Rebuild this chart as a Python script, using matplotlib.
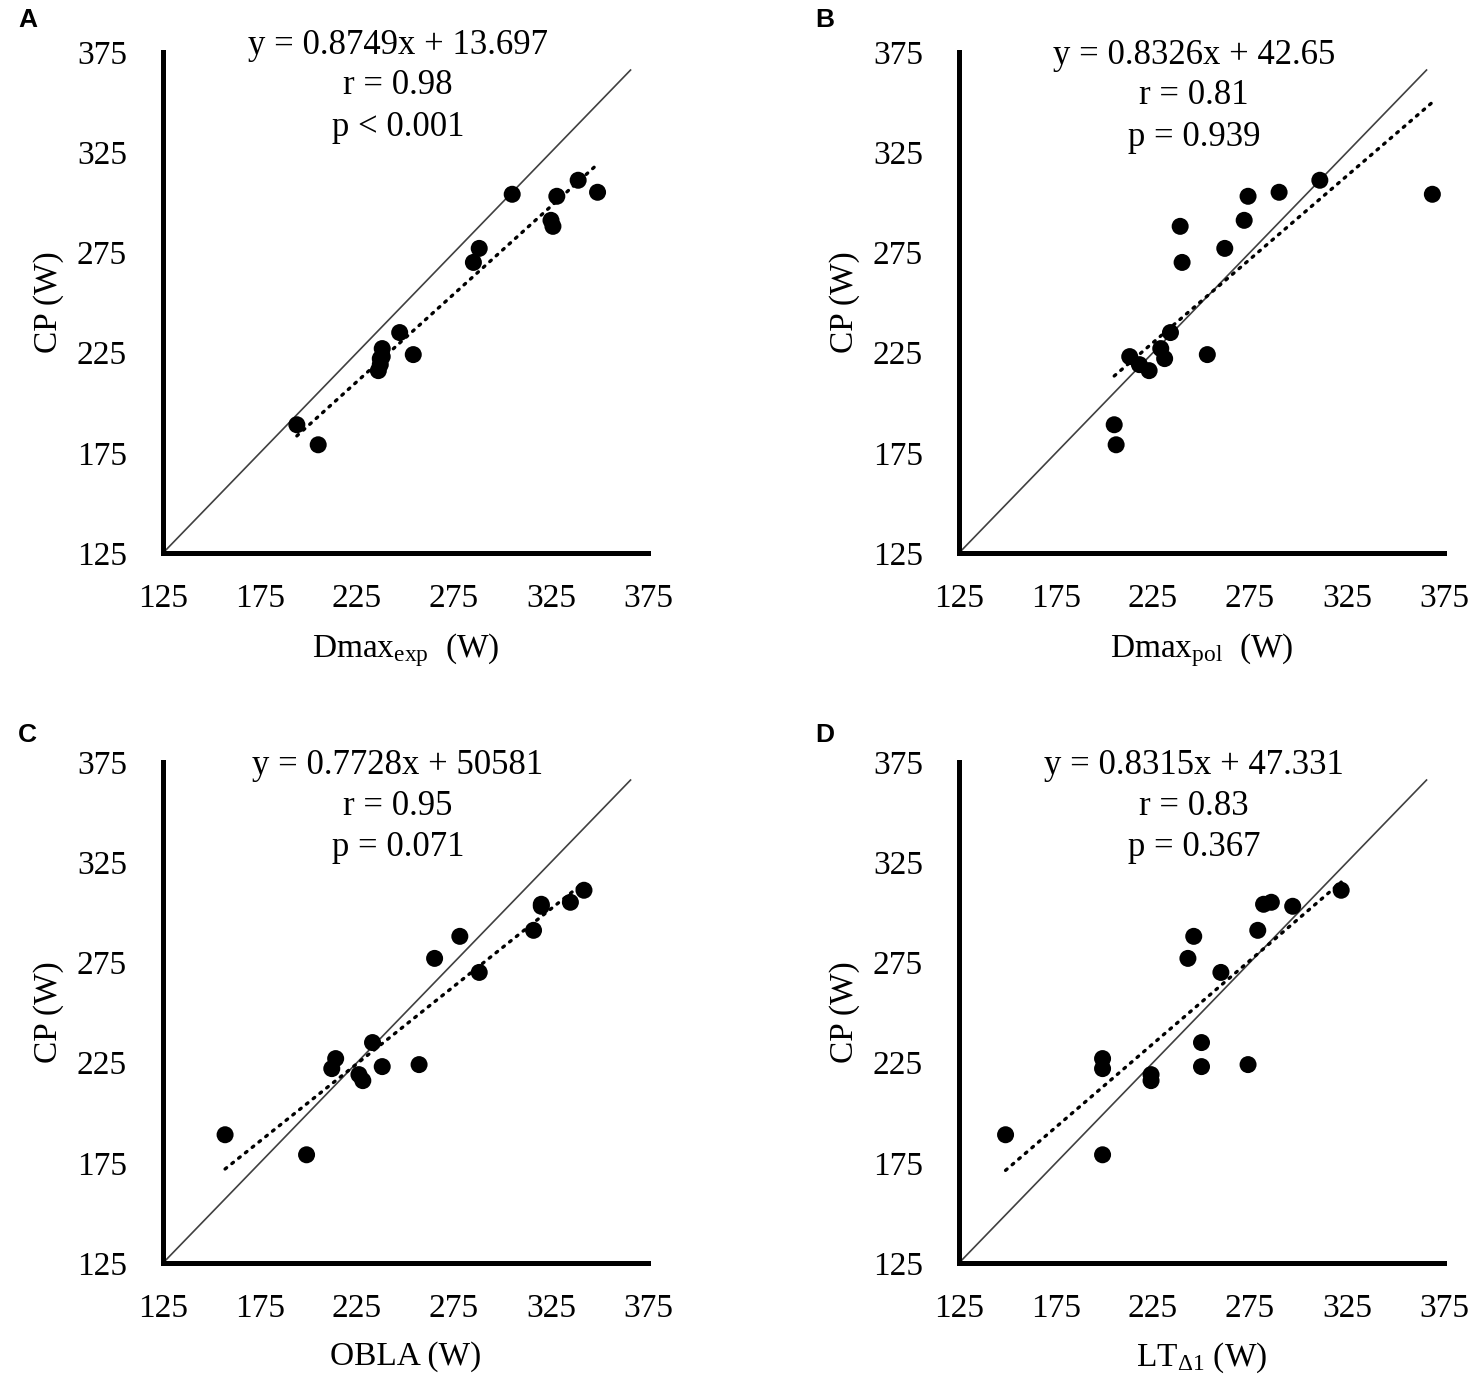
import numpy as np
import matplotlib
matplotlib.use("Agg")
import matplotlib.pyplot as plt

plt.rcParams['font.family'] = ['Liberation Serif', 'DejaVu Serif']
plt.rcParams['mathtext.fontset'] = 'custom'
plt.rcParams['mathtext.rm'] = 'Liberation Serif'
plt.rcParams['mathtext.it'] = 'Liberation Serif:italic'

# CP (W), shared y values of all four panels
cp = [311, 305, 304, 303, 291, 288, 277, 270, 235, 227, 224, 223, 222, 219, 216, 189, 179]

# threshold estimates (W), same subject order as cp
dmax_exp = [339, 349, 305, 328, 325, 326, 288, 285, 247, 238, 254, 238, 237, 237, 236, 194, 205]
dmax_pol = [311, 290, 369, 274, 272, 239, 262, 240, 234, 229, 253, 213, 231, 218, 223, 205, 206]
obla = [342, 335, 320, 320, 316, 278, 265, 288, 233, 214, 257, 238, 212, 226, 228, 157, 199]
lt_d1 = [322, 286, 282, 297, 279, 246, 243, 260, 250, 199, 274, 250, 199, 224, 224, 149, 199]

panel_letters = ['A', 'B', 'C', 'D']
x_labels = [r'Dmax$_{\mathrm{exp}}$  (W)', r'Dmax$_{\mathrm{pol}}$  (W)',
            'OBLA (W)', r'LT$_{\mathrm{\Delta 1}}$ (W)']
slopes = [0.8749, 0.8326, 0.7728, 0.8315]
intercepts = [13.697, 42.65, 50.581, 47.331]
eq_texts = ['y = 0.8749x + 13.697', 'y = 0.8326x + 42.65',
            'y = 0.7728x + 50581', 'y = 0.8315x + 47.331']
r_texts = ['r = 0.98', 'r = 0.81', 'r = 0.95', 'r = 0.83']
p_texts = ['p < 0.001', 'p = 0.939', 'p = 0.071', 'p = 0.367']

ticks = [125, 175, 225, 275, 325, 375]

W, H = 1479, 1383
fig = plt.figure(figsize=(W / 100, H / 100), dpi=100)

# axes boxes in pixels: left, top (375 line), right, bottom (125 line)
boxes = [(163, 52, 648, 553), (959, 52, 1444, 553),
         (163, 762, 648, 1263), (959, 762, 1444, 1263)]
text_tops = [45, 55, 765, 765]
letter_pos = [(18, 20), (815, 20), (18, 735), (815, 735)]
all_x = [dmax_exp, dmax_pol, obla, lt_d1]

for i in range(4):
    l, t, r, b = boxes[i]
    ax = fig.add_axes([l / W, 1 - b / H, (r - l) / W, (b - t) / H])
    x = np.array(all_x[i])

    # line of identity
    ax.plot([125, 366], [125, 366], color='#404040', lw=1.2, zorder=1)

    # linear trend line over the data range
    xs = np.array([x.min(), x.max()])
    ax.plot(xs, slopes[i] * xs + intercepts[i], color='black', lw=2.4,
            linestyle=(0, (0.6, 2.0)), dash_capstyle='round', zorder=2)

    ax.scatter(x, cp, s=150, color='black', edgecolors='none', zorder=3)

    ax.set_xlim(125, 375)
    ax.set_ylim(125, 375)
    ax.set_xticks(ticks)
    ax.set_yticks(ticks)
    ax.tick_params(length=0, labelsize=24)
    ax.tick_params(axis='x', pad=22)
    ax.tick_params(axis='y', pad=26)
    for side in ['top', 'right']:
        ax.spines[side].set_visible(False)
    for side in ['left', 'bottom']:
        ax.spines[side].set_linewidth(3.6)
        ax.spines[side].set_capstyle('projecting')

    ax.set_xlabel(x_labels[i], fontsize=24, labelpad=12)
    ax.set_ylabel('CP (W)', fontsize=24, labelpad=9)

    cx = (l + r) / 2 / W - 0.005
    ty = text_tops[i]
    for k, s in enumerate([eq_texts[i], r_texts[i], p_texts[i]]):
        fig.text(cx, 1 - (ty + 41 * k) / H, s, fontsize=25,
                 ha='center', va='center')

    lx, ly = letter_pos[i]
    fig.text(lx / W, 1 - ly / H, panel_letters[i], fontsize=19,
             fontweight='bold', family='Liberation Sans', ha='left', va='center')

fig.savefig('out.png', dpi=100)
